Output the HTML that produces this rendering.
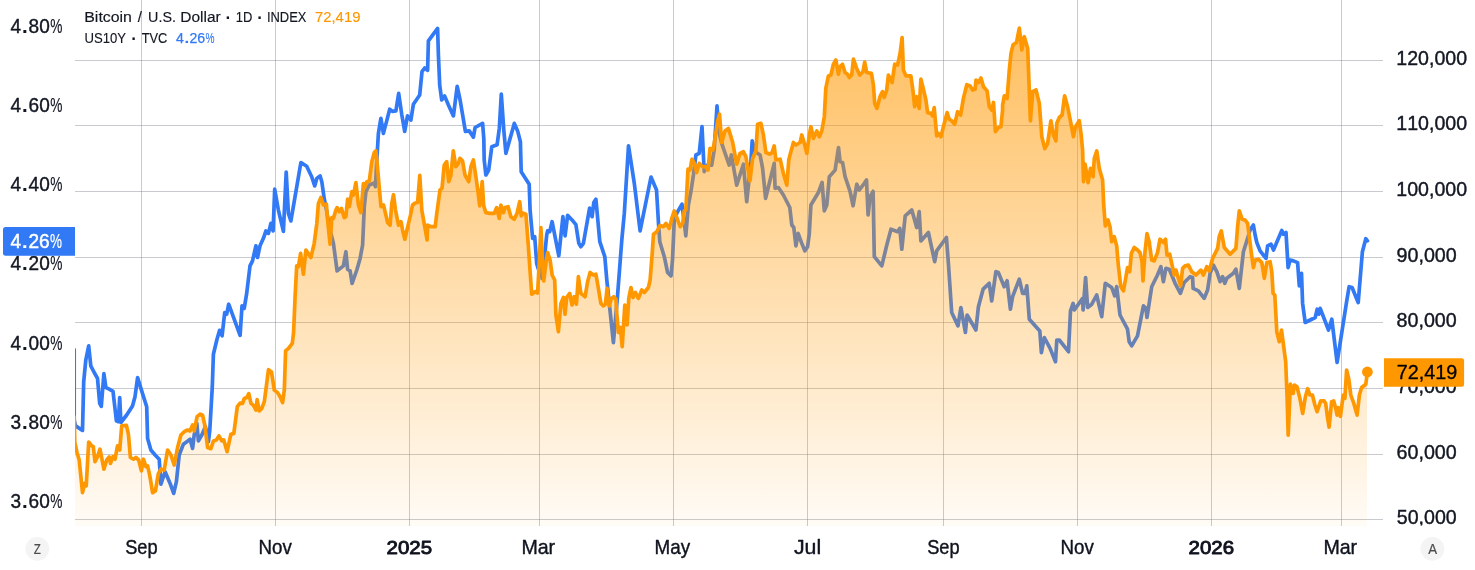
<!DOCTYPE html>
<html lang="en"><head><meta charset="utf-8"><title>Bitcoin / U.S. Dollar · 1D · INDEX vs US10Y · TVC</title>
<style>
html,body{margin:0;padding:0;background:#fff;}
body{width:1475px;height:570px;overflow:hidden;font-family:"Liberation Sans",sans-serif;}
svg{display:block;}
text{font-family:"Liberation Sans",sans-serif;font-kerning:none;stroke-linejoin:round;}
</style></head><body>
<svg width="1475" height="570" viewBox="0 0 1475 570">
<defs>
<linearGradient id="og" gradientUnits="userSpaceOnUse" x1="0" y1="0" x2="0" y2="526">
<stop offset="0" stop-color="#ff9800" stop-opacity="0.66"/>
<stop offset="1" stop-color="#ff9800" stop-opacity="0.035"/>
</linearGradient>
<clipPath id="plot"><rect x="75" y="0" width="1308" height="526"/></clipPath>
<clipPath id="raxis"><rect x="1383" y="0" width="92" height="525.4"/></clipPath>
</defs>
<rect width="1475" height="570" fill="#fff"/>

<g clip-path="url(#plot)">
<g fill="rgba(120,123,134,0.4)" shape-rendering="crispEdges">
<rect x="75" y="60" width="1308" height="1"/>
<rect x="75" y="125" width="1308" height="1"/>
<rect x="75" y="191" width="1308" height="1"/>
<rect x="75" y="257" width="1308" height="1"/>
<rect x="75" y="322" width="1308" height="1"/>
<rect x="75" y="388" width="1308" height="1"/>
<rect x="75" y="454" width="1308" height="1"/>
<rect x="75" y="519" width="1308" height="1"/>
<rect x="141" y="0" width="1" height="526"/>
<rect x="275" y="0" width="1" height="526"/>
<rect x="409" y="0" width="1" height="526"/>
<rect x="539" y="0" width="1" height="526"/>
<rect x="673" y="0" width="1" height="526"/>
<rect x="807" y="0" width="1" height="526"/>
<rect x="943" y="0" width="1" height="526"/>
<rect x="1077" y="0" width="1" height="526"/>
<rect x="1211" y="0" width="1" height="526"/>
<rect x="1341" y="0" width="1" height="526"/>
</g>
<path d="M74.2,349.7 L74.2,420.1 L75.5,425.9 L82.5,430.4 L83.7,381.7 L85.8,360.0 L88.7,345.9 L90.8,365.9 L94.2,372.5 L97.5,378.4 L99.7,403.4 L101.3,406.4 L103.9,373.7 L105.9,387.6 L109.2,389.2 L113.0,391.4 L116.4,420.8 L118.4,421.7 L119.7,397.6 L120.9,422.5 L126.7,415.0 L132.5,405.9 L135.0,396.7 L137.6,377.5 L140.9,388.4 L146.7,406.7 L147.6,438.4 L150.9,450.0 L155.1,455.0 L159.2,459.2 L160.9,484.2 L165.1,471.7 L170.1,483.4 L173.7,493.4 L176.4,481.7 L179.2,455.0 L183.4,444.2 L186.8,441.7 L190.1,439.2 L192.6,448.4 L194.2,435.0 L196.8,423.4 L198.4,440.9 L201.8,435.0 L205.4,426.7 L208.4,441.7 L209.8,430.0 L212.3,386.7 L213.4,354.2 L216.8,340.0 L219.6,330.3 L222.1,335.8 L224.7,312.6 L226.7,314.2 L228.7,304.2 L240.1,335.3 L242.0,305.9 L244.2,308.4 L246.7,293.4 L250.0,265.9 L252.5,260.9 L255.9,245.8 L257.5,257.5 L260.0,245.8 L263.4,238.3 L265.9,230.9 L268.4,233.4 L270.9,223.4 L273.1,230.9 L274.7,189.2 L278.4,210.1 L283.4,231.4 L286.2,172.0 L288.4,213.4 L290.9,220.9 L300.9,162.5 L306.7,166.3 L311.7,176.7 L314.7,185.9 L316.8,178.4 L320.1,175.9 L321.8,181.7 L324.2,198.4 L326.8,211.7 L329.2,226.7 L333.4,243.3 L337.1,270.9 L343.4,265.9 L345.9,251.7 L347.6,269.2 L350.1,270.9 L352.1,283.4 L356.8,270.0 L360.1,258.4 L362.6,245.0 L364.3,206.7 L365.9,191.7 L369.3,185.0 L374.3,183.0 L375.4,186.7 L376.8,160.0 L378.4,133.4 L380.9,118.4 L383.4,133.4 L386.7,120.9 L389.7,109.2 L392.5,111.4 L395.9,110.9 L398.7,93.4 L401.7,114.2 L404.7,131.4 L407.5,115.9 L410.9,120.0 L413.4,104.2 L419.7,95.0 L422.0,71.7 L424.7,68.0 L427.6,70.3 L428.4,40.9 L437.6,28.4 L438.4,55.0 L439.7,85.1 L441.7,100.0 L444.6,95.9 L448.4,105.0 L453.4,115.9 L457.2,86.3 L460.1,100.0 L465.4,131.4 L469.2,130.9 L473.4,137.1 L475.1,127.5 L482.6,123.4 L483.8,138.4 L484.2,160.0 L485.9,175.0 L488.7,170.0 L491.8,146.7 L497.1,144.7 L499.3,128.4 L501.3,94.2 L503.8,130.1 L505.9,153.3 L514.3,123.4 L517.6,130.9 L520.4,141.7 L521.2,171.7 L529.2,184.2 L530.1,210.1 L532.6,238.3 L534.7,236.7 L536.7,263.4 L538.4,269.2 L540.1,263.4 L542.1,278.4 L544.7,255.0 L546.7,235.0 L547.6,230.9 L549.7,231.7 L552.1,221.7 L558.8,255.8 L562.9,216.7 L565.1,235.8 L567.6,215.4 L571.8,219.7 L575.9,224.7 L578.8,243.3 L580.9,246.7 L583.4,243.3 L589.6,208.1 L592.1,216.7 L593.8,202.5 L595.9,199.2 L599.8,241.7 L604.8,256.7 L606.8,280.0 L613.4,342.6 L617.6,295.0 L621.8,240.0 L624.3,213.4 L628.5,145.8 L634.3,183.4 L640.1,230.9 L651.0,177.0 L656.5,190.0 L658.5,223.4 L659.8,241.7 L664.3,256.7 L667.6,272.5 L671.0,275.9 L672.5,260.1 L674.2,221.7 L676.7,213.4 L682.0,204.2 L684.2,221.7 L685.8,235.9 L688.4,205.0 L690.9,191.7 L693.4,175.1 L695.9,155.0 L699.2,153.4 L702.0,126.7 L704.2,171.7 L707.5,165.1 L711.7,165.1 L714.2,150.0 L717.0,105.8 L719.2,133.4 L721.7,143.4 L729.2,165.1 L731.4,155.0 L736.7,185.1 L743.4,164.2 L746.7,201.7 L750.9,161.7 L752.2,140.9 L755.1,151.7 L760.1,155.0 L762.6,168.4 L765.6,198.3 L774.2,163.4 L775.1,188.3 L778.4,187.5 L783.4,195.0 L789.8,207.5 L791.8,225.0 L793.8,227.5 L795.9,245.9 L798.1,233.4 L801.8,243.4 L804.8,250.9 L807.6,246.7 L809.3,233.4 L810.9,205.0 L818.4,192.5 L822.1,182.5 L824.3,210.8 L826.8,205.0 L829.3,176.7 L835.1,170.1 L838.5,147.5 L840.1,161.7 L842.6,162.6 L845.1,176.7 L850.1,191.7 L853.1,205.8 L856.8,184.2 L859.3,190.0 L864.3,183.3 L866.5,180.0 L868.1,215.0 L870.1,196.7 L873.1,191.3 L874.3,256.7 L881.8,265.9 L886.8,245.0 L891.0,229.2 L897.6,231.7 L899.8,228.4 L901.8,249.2 L905.2,215.9 L911.8,210.0 L916.7,227.5 L919.2,211.7 L920.9,240.9 L928.4,232.5 L934.7,261.7 L936.7,250.9 L946.4,237.5 L948.4,263.4 L951.7,312.5 L958.0,325.9 L960.9,307.5 L965.4,332.5 L967.1,315.0 L975.9,330.0 L978.4,306.7 L983.1,289.2 L989.2,283.3 L991.7,300.9 L995.9,271.7 L998.4,272.6 L1004.2,286.7 L1007.1,280.8 L1010.4,309.2 L1012.6,296.7 L1019.3,279.2 L1022.6,293.4 L1025.1,293.4 L1026.8,285.8 L1029.3,319.2 L1039.8,330.9 L1041.4,352.6 L1044.3,337.5 L1050.1,348.4 L1055.5,361.7 L1056.8,340.0 L1059.3,340.0 L1068.5,351.7 L1070.5,310.9 L1073.1,303.4 L1074.3,310.0 L1082.6,298.4 L1083.1,310.0 L1085.6,277.5 L1087.6,307.5 L1091.8,304.2 L1096.7,295.0 L1101.7,316.7 L1105.3,283.3 L1111.7,287.5 L1114.7,295.9 L1116.7,286.7 L1120.0,315.0 L1127.5,329.2 L1129.2,341.7 L1131.7,345.9 L1137.5,335.9 L1143.4,305.9 L1145.9,308.4 L1147.0,317.5 L1151.7,286.7 L1157.5,275.0 L1160.9,266.7 L1163.4,281.7 L1165.9,268.4 L1169.2,269.2 L1171.7,275.0 L1175.1,283.3 L1180.4,293.4 L1184.2,282.5 L1190.1,276.7 L1192.6,277.5 L1193.1,288.4 L1198.4,290.9 L1204.2,298.4 L1207.6,290.0 L1210.1,273.3 L1213.4,265.1 L1216.8,271.7 L1220.1,281.7 L1222.6,276.7 L1224.8,283.3 L1226.8,278.3 L1233.4,273.3 L1235.9,269.2 L1239.3,288.4 L1243.4,251.7 L1247.6,238.4 L1250.1,230.0 L1253.4,225.0 L1255.1,235.0 L1256.8,242.5 L1260.1,250.9 L1266.0,258.4 L1267.6,245.9 L1271.0,244.2 L1273.5,250.0 L1281.8,230.4 L1283.5,234.2 L1286.0,232.5 L1288.1,267.6 L1290.1,260.1 L1293.5,260.9 L1297.6,262.6 L1299.3,285.8 L1301.5,273.3 L1302.6,303.4 L1305.2,322.5 L1315.2,317.5 L1317.2,309.2 L1318.8,314.2 L1320.2,308.4 L1328.5,330.0 L1331.8,319.2 L1337.1,362.5 L1346.6,301.7 L1349.1,286.7 L1352.1,287.5 L1358.2,302.6 L1362.4,251.7 L1365.8,238.7 L1367.4,240.8" fill="none" stroke="#3179f5" stroke-width="3.7" stroke-linejoin="round" stroke-linecap="round"/>
<path d="M74.2,417.0 L74.8,442.5 L77.0,452.5 L79.2,460.0 L82.5,492.6 L84.7,483.4 L86.2,485.9 L88.7,442.0 L91.7,445.9 L93.3,446.7 L95.0,461.7 L97.5,456.7 L100.0,449.2 L103.9,469.2 L106.7,460.0 L109.2,457.0 L110.5,463.4 L113.0,456.7 L115.0,459.2 L117.5,445.9 L119.7,450.0 L121.7,425.9 L126.4,425.4 L128.4,434.2 L130.4,457.5 L133.4,459.2 L135.9,457.5 L138.7,460.0 L141.4,470.9 L143.4,459.2 L145.9,466.7 L147.6,465.9 L149.7,475.1 L152.6,492.6 L155.4,490.9 L158.4,473.4 L160.9,469.2 L164.2,470.0 L167.6,450.0 L170.9,455.0 L174.2,465.0 L177.6,447.5 L180.9,435.0 L184.2,431.7 L187.6,430.0 L190.1,430.9 L192.6,425.0 L194.2,430.9 L197.1,416.7 L200.1,414.2 L202.6,415.3 L204.8,425.0 L207.6,447.5 L210.9,448.7 L213.4,440.9 L216.4,440.0 L218.9,435.9 L221.8,440.9 L223.8,440.0 L227.1,451.7 L230.9,434.2 L233.8,433.4 L237.3,406.7 L240.1,403.1 L242.6,403.4 L244.3,398.4 L246.8,397.6 L248.8,393.7 L251.0,403.4 L253.5,405.4 L256.0,410.1 L257.1,399.7 L259.3,410.9 L261.8,408.4 L264.3,401.7 L268.5,369.7 L271.5,372.0 L274.3,390.1 L277.6,392.6 L280.1,396.7 L282.6,402.6 L284.3,390.1 L285.6,350.9 L288.5,348.4 L292.3,343.4 L293.5,333.3 L293.9,325.1 L295.1,296.7 L296.7,265.9 L298.4,266.7 L300.6,253.3 L303.4,274.2 L305.9,250.0 L310.9,257.5 L314.2,243.3 L316.8,223.4 L318.4,203.4 L320.9,197.5 L323.4,205.0 L326.4,204.2 L327.6,220.1 L330.1,244.2 L331.8,217.6 L333.4,218.4 L335.9,210.1 L337.1,207.6 L339.3,211.7 L341.4,208.4 L344.3,217.6 L345.9,216.7 L347.6,199.2 L349.3,206.7 L351.8,191.7 L353.4,195.0 L355.9,182.5 L358.4,205.0 L360.9,212.6 L363.4,183.7 L365.1,186.7 L366.8,181.7 L369.3,180.9 L371.8,161.7 L374.3,152.5 L375.9,150.8 L377.6,168.3 L379.3,188.4 L381.0,206.7 L383.5,205.0 L385.5,213.4 L387.6,222.6 L390.1,225.1 L391.8,203.4 L393.5,194.7 L395.5,210.1 L398.5,225.1 L401.0,221.7 L402.6,230.1 L404.8,239.2 L410.5,215.1 L412.6,205.0 L415.1,203.0 L417.6,202.5 L419.8,175.4 L421.8,210.1 L427.1,240.0 L427.6,225.1 L431.0,226.7 L435.2,226.7 L436.8,213.4 L440.0,190.0 L442.0,188.4 L444.2,165.0 L446.7,161.7 L448.7,181.7 L450.8,175.9 L453.3,150.8 L455.8,166.7 L458.4,163.3 L460.0,158.3 L462.5,160.8 L465.0,175.0 L468.7,181.7 L470.9,166.7 L473.4,160.0 L475.9,176.7 L478.0,191.7 L479.7,205.9 L482.2,181.7 L483.7,205.9 L485.9,212.6 L490.0,213.4 L494.2,213.4 L496.7,207.6 L499.2,218.4 L500.9,205.0 L503.4,212.6 L505.0,207.6 L508.1,206.7 L510.9,216.7 L514.2,219.2 L517.0,213.4 L519.7,201.7 L521.2,215.9 L523.1,213.1 L525.9,214.2 L528.4,246.7 L530.1,271.7 L531.7,294.2 L535.1,291.7 L537.6,293.0 L539.2,263.4 L540.9,227.6 L542.6,263.4 L543.7,280.9 L545.9,263.4 L547.6,252.5 L550.1,260.0 L552.1,275.0 L554.7,280.0 L555.9,315.0 L558.4,331.7 L560.9,303.4 L563.4,297.5 L565.0,314.2 L566.7,297.5 L569.7,293.4 L572.0,305.0 L574.2,296.7 L576.4,304.2 L578.4,276.7 L580.9,293.4 L585.1,296.7 L587.6,281.7 L590.1,272.5 L593.4,275.0 L595.9,274.2 L598.4,288.4 L600.9,303.4 L603.1,305.9 L605.4,304.2 L607.1,288.4 L609.2,305.9 L611.4,298.4 L613.7,296.7 L615.9,299.2 L616.8,313.4 L618.4,332.5 L620.4,327.5 L622.2,346.7 L624.8,305.0 L627.1,325.0 L628.8,298.4 L630.9,287.5 L633.1,297.5 L635.4,292.5 L638.4,298.4 L641.8,290.0 L644.3,292.5 L648.4,287.5 L650.1,280.0 L652.1,255.0 L653.5,234.2 L656.8,231.7 L660.1,225.4 L663.5,226.7 L666.0,223.4 L669.3,228.4 L671.8,218.4 L674.3,210.9 L676.8,217.6 L680.2,226.7 L682.7,223.4 L684.2,210.8 L685.8,210.0 L688.0,169.2 L690.0,170.1 L692.0,159.2 L694.7,164.2 L696.7,172.6 L699.2,163.4 L702.5,166.7 L705.4,166.7 L708.0,170.1 L710.0,148.4 L713.0,150.0 L715.0,138.4 L717.5,121.7 L719.5,114.2 L721.7,142.5 L725.0,130.9 L728.4,128.4 L732.5,141.7 L736.7,164.2 L740.0,153.4 L743.4,151.7 L745.9,156.7 L750.0,180.9 L752.6,158.4 L755.9,150.9 L757.6,124.2 L760.9,123.3 L763.4,135.0 L765.9,152.5 L770.1,154.2 L772.1,152.5 L774.2,145.9 L775.9,160.0 L780.1,159.2 L783.4,173.4 L786.8,185.1 L788.8,160.0 L790.4,153.4 L793.4,142.5 L795.9,145.0 L800.1,142.5 L801.8,135.0 L804.3,143.4 L806.8,153.4 L809.3,135.0 L810.9,126.7 L813.4,138.4 L816.8,130.9 L819.3,136.7 L821.8,130.9 L824.3,116.7 L825.8,88.4 L828.4,75.9 L830.9,75.0 L833.4,64.2 L835.9,60.0 L838.4,74.2 L840.0,66.7 L842.5,64.2 L845.0,72.5 L847.5,74.2 L849.2,77.5 L851.7,75.0 L853.4,59.2 L856.7,68.4 L859.7,75.0 L863.0,71.7 L864.7,62.0 L866.7,72.5 L871.4,73.4 L873.4,85.0 L874.7,103.4 L877.0,108.4 L880.0,96.7 L882.5,91.7 L884.2,97.5 L886.7,90.0 L888.4,75.0 L892.1,82.5 L894.7,64.2 L897.6,65.0 L900.1,53.4 L902.1,37.5 L903.4,70.0 L905.9,75.9 L910.9,75.9 L913.1,91.7 L914.7,106.7 L916.7,96.7 L919.2,108.4 L920.9,79.2 L923.4,89.2 L925.9,100.0 L927.6,112.6 L930.9,113.4 L932.6,115.9 L934.2,107.6 L936.7,135.9 L938.4,133.4 L940.9,136.7 L943.4,126.7 L947.1,112.6 L949.2,119.2 L951.7,120.8 L954.7,124.2 L957.6,111.7 L960.6,115.1 L963.4,98.4 L966.8,84.7 L970.1,85.9 L972.6,90.0 L975.1,89.2 L976.0,80.0 L978.5,82.5 L981.0,78.0 L983.5,86.7 L987.1,90.9 L989.3,106.7 L991.8,110.1 L993.5,102.5 L995.4,131.7 L998.4,127.5 L1000.9,126.7 L1002.6,110.0 L1002.6,105.0 L1004.3,95.9 L1007.1,98.4 L1009.3,70.0 L1011.0,53.4 L1013.1,44.7 L1016.5,42.5 L1019.3,28.0 L1021.8,50.0 L1024.3,36.7 L1027.7,48.4 L1030.4,120.8 L1032.7,91.7 L1036.0,90.0 L1039.3,103.4 L1041.8,136.7 L1044.8,148.7 L1047.6,143.4 L1050.9,120.8 L1053.4,135.0 L1055.9,140.9 L1056.8,123.3 L1059.3,117.5 L1062.1,115.0 L1064.6,95.8 L1067.6,106.7 L1070.9,123.3 L1073.4,136.7 L1075.5,126.7 L1079.3,120.8 L1081.0,133.4 L1082.6,150.0 L1083.5,181.7 L1085.1,164.2 L1088.1,182.6 L1090.5,168.4 L1093.1,176.7 L1094.3,158.4 L1096.8,150.9 L1099.3,168.4 L1102.6,180.1 L1103.7,205.0 L1105.3,225.9 L1108.0,220.0 L1110.0,226.7 L1111.7,241.7 L1114.2,236.7 L1116.7,245.9 L1118.3,265.1 L1120.8,286.7 L1123.4,290.9 L1125.4,280.0 L1127.5,267.6 L1129.7,271.7 L1131.4,253.4 L1134.2,247.5 L1137.5,250.0 L1140.0,252.6 L1142.0,261.7 L1143.0,280.8 L1145.0,251.7 L1147.0,233.7 L1149.2,241.7 L1151.7,260.1 L1154.2,260.9 L1157.5,252.6 L1160.0,239.2 L1163.4,242.5 L1165.5,239.2 L1167.0,255.1 L1169.7,254.2 L1172.1,265.1 L1174.2,275.0 L1175.9,270.1 L1180.6,285.8 L1182.6,268.4 L1185.1,265.9 L1188.4,265.1 L1191.7,271.7 L1195.9,275.0 L1200.9,270.1 L1203.4,275.1 L1206.8,266.7 L1209.2,270.9 L1212.6,258.4 L1217.6,248.4 L1219.2,236.7 L1221.3,230.9 L1224.3,247.5 L1230.1,254.2 L1235.9,248.4 L1237.6,226.7 L1239.3,210.8 L1242.1,219.2 L1245.1,220.0 L1247.6,223.4 L1249.3,236.7 L1251.4,253.4 L1253.4,267.6 L1255.1,260.1 L1258.5,259.2 L1261.8,262.6 L1264.3,278.3 L1266.8,262.6 L1270.1,261.7 L1271.8,271.7 L1273.1,293.4 L1274.8,295.0 L1276.8,331.7 L1279.3,341.7 L1281.5,330.0 L1283.5,345.1 L1285.7,361.7 L1287.0,395.0 L1288.2,435.1 L1290.4,384.2 L1293.2,393.4 L1294.4,385.0 L1297.0,386.7 L1299.9,398.4 L1302.7,413.4 L1305.4,396.7 L1307.7,388.7 L1309.9,395.0 L1312.4,395.0 L1314.9,405.0 L1317.1,411.7 L1320.7,400.9 L1324.1,400.9 L1325.7,403.4 L1327.4,416.7 L1329.1,427.1 L1331.6,401.7 L1333.7,400.9 L1335.7,408.4 L1337.1,415.1 L1338.2,407.5 L1340.4,416.4 L1343.2,395.0 L1344.9,398.4 L1346.6,370.0 L1348.8,379.2 L1350.8,395.0 L1353.8,403.4 L1357.1,415.1 L1359.4,395.0 L1361.6,387.5 L1365.8,384.2 L1367.4,372.0 L1367.0,372.0 L1367.0,526 L74.2,526 Z" fill="url(#og)" stroke="none"/>
<path d="M74.2,417.0 L74.8,442.5 L77.0,452.5 L79.2,460.0 L82.5,492.6 L84.7,483.4 L86.2,485.9 L88.7,442.0 L91.7,445.9 L93.3,446.7 L95.0,461.7 L97.5,456.7 L100.0,449.2 L103.9,469.2 L106.7,460.0 L109.2,457.0 L110.5,463.4 L113.0,456.7 L115.0,459.2 L117.5,445.9 L119.7,450.0 L121.7,425.9 L126.4,425.4 L128.4,434.2 L130.4,457.5 L133.4,459.2 L135.9,457.5 L138.7,460.0 L141.4,470.9 L143.4,459.2 L145.9,466.7 L147.6,465.9 L149.7,475.1 L152.6,492.6 L155.4,490.9 L158.4,473.4 L160.9,469.2 L164.2,470.0 L167.6,450.0 L170.9,455.0 L174.2,465.0 L177.6,447.5 L180.9,435.0 L184.2,431.7 L187.6,430.0 L190.1,430.9 L192.6,425.0 L194.2,430.9 L197.1,416.7 L200.1,414.2 L202.6,415.3 L204.8,425.0 L207.6,447.5 L210.9,448.7 L213.4,440.9 L216.4,440.0 L218.9,435.9 L221.8,440.9 L223.8,440.0 L227.1,451.7 L230.9,434.2 L233.8,433.4 L237.3,406.7 L240.1,403.1 L242.6,403.4 L244.3,398.4 L246.8,397.6 L248.8,393.7 L251.0,403.4 L253.5,405.4 L256.0,410.1 L257.1,399.7 L259.3,410.9 L261.8,408.4 L264.3,401.7 L268.5,369.7 L271.5,372.0 L274.3,390.1 L277.6,392.6 L280.1,396.7 L282.6,402.6 L284.3,390.1 L285.6,350.9 L288.5,348.4 L292.3,343.4 L293.5,333.3 L293.9,325.1 L295.1,296.7 L296.7,265.9 L298.4,266.7 L300.6,253.3 L303.4,274.2 L305.9,250.0 L310.9,257.5 L314.2,243.3 L316.8,223.4 L318.4,203.4 L320.9,197.5 L323.4,205.0 L326.4,204.2 L327.6,220.1 L330.1,244.2 L331.8,217.6 L333.4,218.4 L335.9,210.1 L337.1,207.6 L339.3,211.7 L341.4,208.4 L344.3,217.6 L345.9,216.7 L347.6,199.2 L349.3,206.7 L351.8,191.7 L353.4,195.0 L355.9,182.5 L358.4,205.0 L360.9,212.6 L363.4,183.7 L365.1,186.7 L366.8,181.7 L369.3,180.9 L371.8,161.7 L374.3,152.5 L375.9,150.8 L377.6,168.3 L379.3,188.4 L381.0,206.7 L383.5,205.0 L385.5,213.4 L387.6,222.6 L390.1,225.1 L391.8,203.4 L393.5,194.7 L395.5,210.1 L398.5,225.1 L401.0,221.7 L402.6,230.1 L404.8,239.2 L410.5,215.1 L412.6,205.0 L415.1,203.0 L417.6,202.5 L419.8,175.4 L421.8,210.1 L427.1,240.0 L427.6,225.1 L431.0,226.7 L435.2,226.7 L436.8,213.4 L440.0,190.0 L442.0,188.4 L444.2,165.0 L446.7,161.7 L448.7,181.7 L450.8,175.9 L453.3,150.8 L455.8,166.7 L458.4,163.3 L460.0,158.3 L462.5,160.8 L465.0,175.0 L468.7,181.7 L470.9,166.7 L473.4,160.0 L475.9,176.7 L478.0,191.7 L479.7,205.9 L482.2,181.7 L483.7,205.9 L485.9,212.6 L490.0,213.4 L494.2,213.4 L496.7,207.6 L499.2,218.4 L500.9,205.0 L503.4,212.6 L505.0,207.6 L508.1,206.7 L510.9,216.7 L514.2,219.2 L517.0,213.4 L519.7,201.7 L521.2,215.9 L523.1,213.1 L525.9,214.2 L528.4,246.7 L530.1,271.7 L531.7,294.2 L535.1,291.7 L537.6,293.0 L539.2,263.4 L540.9,227.6 L542.6,263.4 L543.7,280.9 L545.9,263.4 L547.6,252.5 L550.1,260.0 L552.1,275.0 L554.7,280.0 L555.9,315.0 L558.4,331.7 L560.9,303.4 L563.4,297.5 L565.0,314.2 L566.7,297.5 L569.7,293.4 L572.0,305.0 L574.2,296.7 L576.4,304.2 L578.4,276.7 L580.9,293.4 L585.1,296.7 L587.6,281.7 L590.1,272.5 L593.4,275.0 L595.9,274.2 L598.4,288.4 L600.9,303.4 L603.1,305.9 L605.4,304.2 L607.1,288.4 L609.2,305.9 L611.4,298.4 L613.7,296.7 L615.9,299.2 L616.8,313.4 L618.4,332.5 L620.4,327.5 L622.2,346.7 L624.8,305.0 L627.1,325.0 L628.8,298.4 L630.9,287.5 L633.1,297.5 L635.4,292.5 L638.4,298.4 L641.8,290.0 L644.3,292.5 L648.4,287.5 L650.1,280.0 L652.1,255.0 L653.5,234.2 L656.8,231.7 L660.1,225.4 L663.5,226.7 L666.0,223.4 L669.3,228.4 L671.8,218.4 L674.3,210.9 L676.8,217.6 L680.2,226.7 L682.7,223.4 L684.2,210.8 L685.8,210.0 L688.0,169.2 L690.0,170.1 L692.0,159.2 L694.7,164.2 L696.7,172.6 L699.2,163.4 L702.5,166.7 L705.4,166.7 L708.0,170.1 L710.0,148.4 L713.0,150.0 L715.0,138.4 L717.5,121.7 L719.5,114.2 L721.7,142.5 L725.0,130.9 L728.4,128.4 L732.5,141.7 L736.7,164.2 L740.0,153.4 L743.4,151.7 L745.9,156.7 L750.0,180.9 L752.6,158.4 L755.9,150.9 L757.6,124.2 L760.9,123.3 L763.4,135.0 L765.9,152.5 L770.1,154.2 L772.1,152.5 L774.2,145.9 L775.9,160.0 L780.1,159.2 L783.4,173.4 L786.8,185.1 L788.8,160.0 L790.4,153.4 L793.4,142.5 L795.9,145.0 L800.1,142.5 L801.8,135.0 L804.3,143.4 L806.8,153.4 L809.3,135.0 L810.9,126.7 L813.4,138.4 L816.8,130.9 L819.3,136.7 L821.8,130.9 L824.3,116.7 L825.8,88.4 L828.4,75.9 L830.9,75.0 L833.4,64.2 L835.9,60.0 L838.4,74.2 L840.0,66.7 L842.5,64.2 L845.0,72.5 L847.5,74.2 L849.2,77.5 L851.7,75.0 L853.4,59.2 L856.7,68.4 L859.7,75.0 L863.0,71.7 L864.7,62.0 L866.7,72.5 L871.4,73.4 L873.4,85.0 L874.7,103.4 L877.0,108.4 L880.0,96.7 L882.5,91.7 L884.2,97.5 L886.7,90.0 L888.4,75.0 L892.1,82.5 L894.7,64.2 L897.6,65.0 L900.1,53.4 L902.1,37.5 L903.4,70.0 L905.9,75.9 L910.9,75.9 L913.1,91.7 L914.7,106.7 L916.7,96.7 L919.2,108.4 L920.9,79.2 L923.4,89.2 L925.9,100.0 L927.6,112.6 L930.9,113.4 L932.6,115.9 L934.2,107.6 L936.7,135.9 L938.4,133.4 L940.9,136.7 L943.4,126.7 L947.1,112.6 L949.2,119.2 L951.7,120.8 L954.7,124.2 L957.6,111.7 L960.6,115.1 L963.4,98.4 L966.8,84.7 L970.1,85.9 L972.6,90.0 L975.1,89.2 L976.0,80.0 L978.5,82.5 L981.0,78.0 L983.5,86.7 L987.1,90.9 L989.3,106.7 L991.8,110.1 L993.5,102.5 L995.4,131.7 L998.4,127.5 L1000.9,126.7 L1002.6,110.0 L1002.6,105.0 L1004.3,95.9 L1007.1,98.4 L1009.3,70.0 L1011.0,53.4 L1013.1,44.7 L1016.5,42.5 L1019.3,28.0 L1021.8,50.0 L1024.3,36.7 L1027.7,48.4 L1030.4,120.8 L1032.7,91.7 L1036.0,90.0 L1039.3,103.4 L1041.8,136.7 L1044.8,148.7 L1047.6,143.4 L1050.9,120.8 L1053.4,135.0 L1055.9,140.9 L1056.8,123.3 L1059.3,117.5 L1062.1,115.0 L1064.6,95.8 L1067.6,106.7 L1070.9,123.3 L1073.4,136.7 L1075.5,126.7 L1079.3,120.8 L1081.0,133.4 L1082.6,150.0 L1083.5,181.7 L1085.1,164.2 L1088.1,182.6 L1090.5,168.4 L1093.1,176.7 L1094.3,158.4 L1096.8,150.9 L1099.3,168.4 L1102.6,180.1 L1103.7,205.0 L1105.3,225.9 L1108.0,220.0 L1110.0,226.7 L1111.7,241.7 L1114.2,236.7 L1116.7,245.9 L1118.3,265.1 L1120.8,286.7 L1123.4,290.9 L1125.4,280.0 L1127.5,267.6 L1129.7,271.7 L1131.4,253.4 L1134.2,247.5 L1137.5,250.0 L1140.0,252.6 L1142.0,261.7 L1143.0,280.8 L1145.0,251.7 L1147.0,233.7 L1149.2,241.7 L1151.7,260.1 L1154.2,260.9 L1157.5,252.6 L1160.0,239.2 L1163.4,242.5 L1165.5,239.2 L1167.0,255.1 L1169.7,254.2 L1172.1,265.1 L1174.2,275.0 L1175.9,270.1 L1180.6,285.8 L1182.6,268.4 L1185.1,265.9 L1188.4,265.1 L1191.7,271.7 L1195.9,275.0 L1200.9,270.1 L1203.4,275.1 L1206.8,266.7 L1209.2,270.9 L1212.6,258.4 L1217.6,248.4 L1219.2,236.7 L1221.3,230.9 L1224.3,247.5 L1230.1,254.2 L1235.9,248.4 L1237.6,226.7 L1239.3,210.8 L1242.1,219.2 L1245.1,220.0 L1247.6,223.4 L1249.3,236.7 L1251.4,253.4 L1253.4,267.6 L1255.1,260.1 L1258.5,259.2 L1261.8,262.6 L1264.3,278.3 L1266.8,262.6 L1270.1,261.7 L1271.8,271.7 L1273.1,293.4 L1274.8,295.0 L1276.8,331.7 L1279.3,341.7 L1281.5,330.0 L1283.5,345.1 L1285.7,361.7 L1287.0,395.0 L1288.2,435.1 L1290.4,384.2 L1293.2,393.4 L1294.4,385.0 L1297.0,386.7 L1299.9,398.4 L1302.7,413.4 L1305.4,396.7 L1307.7,388.7 L1309.9,395.0 L1312.4,395.0 L1314.9,405.0 L1317.1,411.7 L1320.7,400.9 L1324.1,400.9 L1325.7,403.4 L1327.4,416.7 L1329.1,427.1 L1331.6,401.7 L1333.7,400.9 L1335.7,408.4 L1337.1,415.1 L1338.2,407.5 L1340.4,416.4 L1343.2,395.0 L1344.9,398.4 L1346.6,370.0 L1348.8,379.2 L1350.8,395.0 L1353.8,403.4 L1357.1,415.1 L1359.4,395.0 L1361.6,387.5 L1365.8,384.2 L1367.4,372.0" fill="none" stroke="#ff9800" stroke-width="3.7" stroke-linejoin="round" stroke-linecap="round"/>
<circle cx="1367.4" cy="372.0" r="5.4" fill="#ff9800"/>
</g>
<g>
<text y="33.10" font-size="19.80" fill="#131722" stroke="#131722" stroke-width="0.4"><tspan x="10.45" textLength="10.60" lengthAdjust="spacingAndGlyphs">4</tspan><tspan x="20.58" textLength="8.68" lengthAdjust="spacingAndGlyphs" font-size="26.73" stroke-width="0">.</tspan><tspan x="28.55" textLength="10.60" lengthAdjust="spacingAndGlyphs">8</tspan><tspan x="39.15" textLength="10.60" lengthAdjust="spacingAndGlyphs">0</tspan><tspan x="50.15" textLength="12.16" lengthAdjust="spacingAndGlyphs" stroke-width="0.18">%</tspan></text>
<text y="112.20" font-size="19.80" fill="#131722" stroke="#131722" stroke-width="0.4"><tspan x="10.45" textLength="10.60" lengthAdjust="spacingAndGlyphs">4</tspan><tspan x="20.58" textLength="8.68" lengthAdjust="spacingAndGlyphs" font-size="26.73" stroke-width="0">.</tspan><tspan x="28.55" textLength="10.60" lengthAdjust="spacingAndGlyphs">6</tspan><tspan x="39.15" textLength="10.60" lengthAdjust="spacingAndGlyphs">0</tspan><tspan x="50.15" textLength="12.16" lengthAdjust="spacingAndGlyphs" stroke-width="0.18">%</tspan></text>
<text y="191.30" font-size="19.80" fill="#131722" stroke="#131722" stroke-width="0.4"><tspan x="10.45" textLength="10.60" lengthAdjust="spacingAndGlyphs">4</tspan><tspan x="20.58" textLength="8.68" lengthAdjust="spacingAndGlyphs" font-size="26.73" stroke-width="0">.</tspan><tspan x="28.55" textLength="10.60" lengthAdjust="spacingAndGlyphs">4</tspan><tspan x="39.15" textLength="10.60" lengthAdjust="spacingAndGlyphs">0</tspan><tspan x="50.15" textLength="12.16" lengthAdjust="spacingAndGlyphs" stroke-width="0.18">%</tspan></text>
<text y="270.40" font-size="19.80" fill="#131722" stroke="#131722" stroke-width="0.4"><tspan x="10.45" textLength="10.60" lengthAdjust="spacingAndGlyphs">4</tspan><tspan x="20.58" textLength="8.68" lengthAdjust="spacingAndGlyphs" font-size="26.73" stroke-width="0">.</tspan><tspan x="28.55" textLength="10.60" lengthAdjust="spacingAndGlyphs">2</tspan><tspan x="39.15" textLength="10.60" lengthAdjust="spacingAndGlyphs">0</tspan><tspan x="50.15" textLength="12.16" lengthAdjust="spacingAndGlyphs" stroke-width="0.18">%</tspan></text>
<text y="349.50" font-size="19.80" fill="#131722" stroke="#131722" stroke-width="0.4"><tspan x="10.45" textLength="10.60" lengthAdjust="spacingAndGlyphs">4</tspan><tspan x="20.58" textLength="8.68" lengthAdjust="spacingAndGlyphs" font-size="26.73" stroke-width="0">.</tspan><tspan x="28.55" textLength="10.60" lengthAdjust="spacingAndGlyphs">0</tspan><tspan x="39.15" textLength="10.60" lengthAdjust="spacingAndGlyphs">0</tspan><tspan x="50.15" textLength="12.16" lengthAdjust="spacingAndGlyphs" stroke-width="0.18">%</tspan></text>
<text y="428.60" font-size="19.80" fill="#131722" stroke="#131722" stroke-width="0.4"><tspan x="10.45" textLength="10.60" lengthAdjust="spacingAndGlyphs">3</tspan><tspan x="20.58" textLength="8.68" lengthAdjust="spacingAndGlyphs" font-size="26.73" stroke-width="0">.</tspan><tspan x="28.55" textLength="10.60" lengthAdjust="spacingAndGlyphs">8</tspan><tspan x="39.15" textLength="10.60" lengthAdjust="spacingAndGlyphs">0</tspan><tspan x="50.15" textLength="12.16" lengthAdjust="spacingAndGlyphs" stroke-width="0.18">%</tspan></text>
<text y="507.70" font-size="19.80" fill="#131722" stroke="#131722" stroke-width="0.4"><tspan x="10.45" textLength="10.60" lengthAdjust="spacingAndGlyphs">3</tspan><tspan x="20.58" textLength="8.68" lengthAdjust="spacingAndGlyphs" font-size="26.73" stroke-width="0">.</tspan><tspan x="28.55" textLength="10.60" lengthAdjust="spacingAndGlyphs">6</tspan><tspan x="39.15" textLength="10.60" lengthAdjust="spacingAndGlyphs">0</tspan><tspan x="50.15" textLength="12.16" lengthAdjust="spacingAndGlyphs" stroke-width="0.18">%</tspan></text>
</g>
<g clip-path="url(#raxis)">
<text fill="#131722" stroke="#131722"><tspan x="1396.35" y="65.0" font-size="19.8" textLength="70.74" lengthAdjust="spacingAndGlyphs" stroke-width="0.4">120,000</tspan></text>
<text fill="#131722" stroke="#131722"><tspan x="1396.35" y="130.0" font-size="19.8" textLength="70.74" lengthAdjust="spacingAndGlyphs" stroke-width="0.4">110,000</tspan></text>
<text fill="#131722" stroke="#131722"><tspan x="1396.35" y="196.0" font-size="19.8" textLength="70.74" lengthAdjust="spacingAndGlyphs" stroke-width="0.4">100,000</tspan></text>
<text fill="#131722" stroke="#131722"><tspan x="1396.55" y="262.0" font-size="19.8" textLength="60.21" lengthAdjust="spacingAndGlyphs" stroke-width="0.4">90,000</tspan></text>
<text fill="#131722" stroke="#131722"><tspan x="1396.55" y="327.0" font-size="19.8" textLength="60.21" lengthAdjust="spacingAndGlyphs" stroke-width="0.4">80,000</tspan></text>
<text fill="#131722" stroke="#131722"><tspan x="1396.55" y="393.0" font-size="19.8" textLength="60.21" lengthAdjust="spacingAndGlyphs" stroke-width="0.4">70,000</tspan></text>
<text fill="#131722" stroke="#131722"><tspan x="1396.55" y="459.0" font-size="19.8" textLength="60.21" lengthAdjust="spacingAndGlyphs" stroke-width="0.4">60,000</tspan></text>
<text fill="#131722" stroke="#131722"><tspan x="1396.8" y="524.0" font-size="19.8" textLength="59.95" lengthAdjust="spacingAndGlyphs" stroke-width="0.4">50,000</tspan></text>
</g>
<g>
<text fill="#0f131e" stroke="#0f131e"><tspan x="125.21" y="553.86" font-size="19.99" textLength="32.42" lengthAdjust="spacingAndGlyphs" stroke-width="0.4">Sep</tspan></text>
<text fill="#0f131e" stroke="#0f131e"><tspan x="258.45" y="553.86" font-size="19.99" textLength="33.32" lengthAdjust="spacingAndGlyphs" stroke-width="0.4">Nov</tspan></text>
<text fill="#0f131e" stroke="#0f131e"><tspan x="386.6" y="553.58" font-size="19.19" textLength="45.47" lengthAdjust="spacingAndGlyphs" stroke-width="0.95">2025</tspan></text>
<text fill="#0f131e" stroke="#0f131e"><tspan x="521.4" y="553.86" font-size="19.99" textLength="33.76" lengthAdjust="spacingAndGlyphs" stroke-width="0.4">Mar</tspan></text>
<text fill="#0f131e" stroke="#0f131e"><tspan x="654.55" y="553.86" font-size="19.99" textLength="35.60" lengthAdjust="spacingAndGlyphs" stroke-width="0.4">May</tspan></text>
<text fill="#0f131e" stroke="#0f131e"><tspan x="793.95" y="553.86" font-size="19.99" textLength="27.23" lengthAdjust="spacingAndGlyphs" stroke-width="0.4">Jul</tspan></text>
<text fill="#0f131e" stroke="#0f131e"><tspan x="927.21" y="553.86" font-size="19.99" textLength="32.42" lengthAdjust="spacingAndGlyphs" stroke-width="0.4">Sep</tspan></text>
<text fill="#0f131e" stroke="#0f131e"><tspan x="1060.45" y="553.86" font-size="19.99" textLength="33.32" lengthAdjust="spacingAndGlyphs" stroke-width="0.4">Nov</tspan></text>
<text fill="#0f131e" stroke="#0f131e"><tspan x="1188.6" y="553.58" font-size="19.19" textLength="45.47" lengthAdjust="spacingAndGlyphs" stroke-width="0.95">2026</tspan></text>
<text fill="#0f131e" stroke="#0f131e"><tspan x="1323.4" y="553.86" font-size="19.99" textLength="33.76" lengthAdjust="spacingAndGlyphs" stroke-width="0.4">Mar</tspan></text>
</g>
<g>
<text fill="#131722" stroke="#131722"><tspan x="84.25" y="21.78" font-size="14.68" textLength="47.72" lengthAdjust="spacingAndGlyphs" stroke-width="0.15">Bitcoin</tspan> <tspan x="137.7" y="21.78" font-size="14.68" textLength="4.18" lengthAdjust="spacingAndGlyphs" stroke-width="0.15">/</tspan> <tspan x="148.1" y="21.78" font-size="14.68" textLength="27.81" lengthAdjust="spacingAndGlyphs" stroke-width="0.15">U.S.</tspan> <tspan x="180.25" y="21.78" font-size="14.68" textLength="40.46" lengthAdjust="spacingAndGlyphs" stroke-width="0.15">Dollar</tspan> <tspan x="223.8" y="23.75" font-size="24.78" textLength="8.25" lengthAdjust="spacingAndGlyphs" stroke="none">·</tspan> <tspan x="235.8" y="21.78" font-size="14.68" textLength="16.60" lengthAdjust="spacingAndGlyphs" stroke-width="0.15">1D</tspan> <tspan x="255.42" y="23.62" font-size="24.66" textLength="8.22" lengthAdjust="spacingAndGlyphs" stroke="none">·</tspan> <tspan x="266.9" y="21.78" font-size="14.68" textLength="39.57" lengthAdjust="spacingAndGlyphs" stroke-width="0.15">INDEX</tspan> <tspan x="314.95" y="21.78" font-size="14.68" textLength="45.50" lengthAdjust="spacingAndGlyphs" fill="#ff9800" stroke="#ff9800" stroke-width="0.15">72,419</tspan></text>
<text fill="#131722" stroke="#131722"><tspan x="84.5" y="42.58" font-size="15.04" textLength="41.61" lengthAdjust="spacingAndGlyphs" stroke-width="0.15">US10Y</tspan> <tspan x="129.4" y="44.55" font-size="24.78" textLength="8.25" lengthAdjust="spacingAndGlyphs" stroke="none">·</tspan> <tspan x="141.65" y="42.58" font-size="15.04" textLength="25.63" lengthAdjust="spacingAndGlyphs" stroke-width="0.15">TVC</tspan> <tspan fill="#3179f5" stroke="#3179f5" stroke-width="0.25"><tspan y="42.53" x="176.04" textLength="7.86" lengthAdjust="spacingAndGlyphs" font-size="14.69">4</tspan><tspan y="42.53" x="183.23" textLength="7.16" lengthAdjust="spacingAndGlyphs" font-size="19.84" stroke-width="0">.</tspan><tspan y="42.53" x="189.46" textLength="7.86" lengthAdjust="spacingAndGlyphs" font-size="14.69">2</tspan><tspan y="42.53" x="197.33" textLength="7.86" lengthAdjust="spacingAndGlyphs" font-size="14.69">6</tspan><tspan y="42.53" x="205.40" textLength="9.02" lengthAdjust="spacingAndGlyphs" stroke-width="0.11" font-size="14.69">%</tspan></tspan></text>
</g>
<path d="M75,227 H5.5 a2.5,2.5 0 0 0 -2.5,2.5 V253.3 a2.5,2.5 0 0 0 2.5,2.5 H75 Z" fill="#3179f5"/>
<text y="247.55" font-size="19.52" fill="#ffffff" stroke="#ffffff" stroke-width="0.5"><tspan x="10.40" textLength="10.60" lengthAdjust="spacingAndGlyphs">4</tspan><tspan x="20.52" textLength="8.55" lengthAdjust="spacingAndGlyphs" font-size="26.35" stroke-width="0">.</tspan><tspan x="28.50" textLength="10.60" lengthAdjust="spacingAndGlyphs">2</tspan><tspan x="39.10" textLength="10.60" lengthAdjust="spacingAndGlyphs">6</tspan><tspan x="50.10" textLength="11.98" lengthAdjust="spacingAndGlyphs" stroke-width="0.23">%</tspan></text>
<path d="M1384,358.3 H1461.6 a2.5,2.5 0 0 1 2.5,2.5 V384.3 a2.5,2.5 0 0 1 -2.5,2.5 H1384 Z" fill="#ff9800"/>
<text fill="#000000" stroke="#000000"><tspan x="1396.85" y="378.5" font-size="19.65" textLength="60.49" lengthAdjust="spacingAndGlyphs" stroke-width="0.3">72,419</tspan></text>
<circle cx="37.3" cy="548.85" r="11.9" fill="#f4f4f4"/>
<text fill="#4d4d4d" stroke="#4d4d4d"><tspan x="33.81" y="553.96" font-size="14.36" textLength="7.09" lengthAdjust="spacingAndGlyphs" stroke-width="0.2">Z</tspan></text>
<circle cx="1432.4" cy="548.85" r="11.9" fill="#f4f4f4"/>
<text fill="#4d4d4d" stroke="#4d4d4d"><tspan x="1428.3" y="553.8" font-size="13.73" textLength="8.86" lengthAdjust="spacingAndGlyphs" stroke-width="0.2">A</tspan></text>
</svg></body></html>
